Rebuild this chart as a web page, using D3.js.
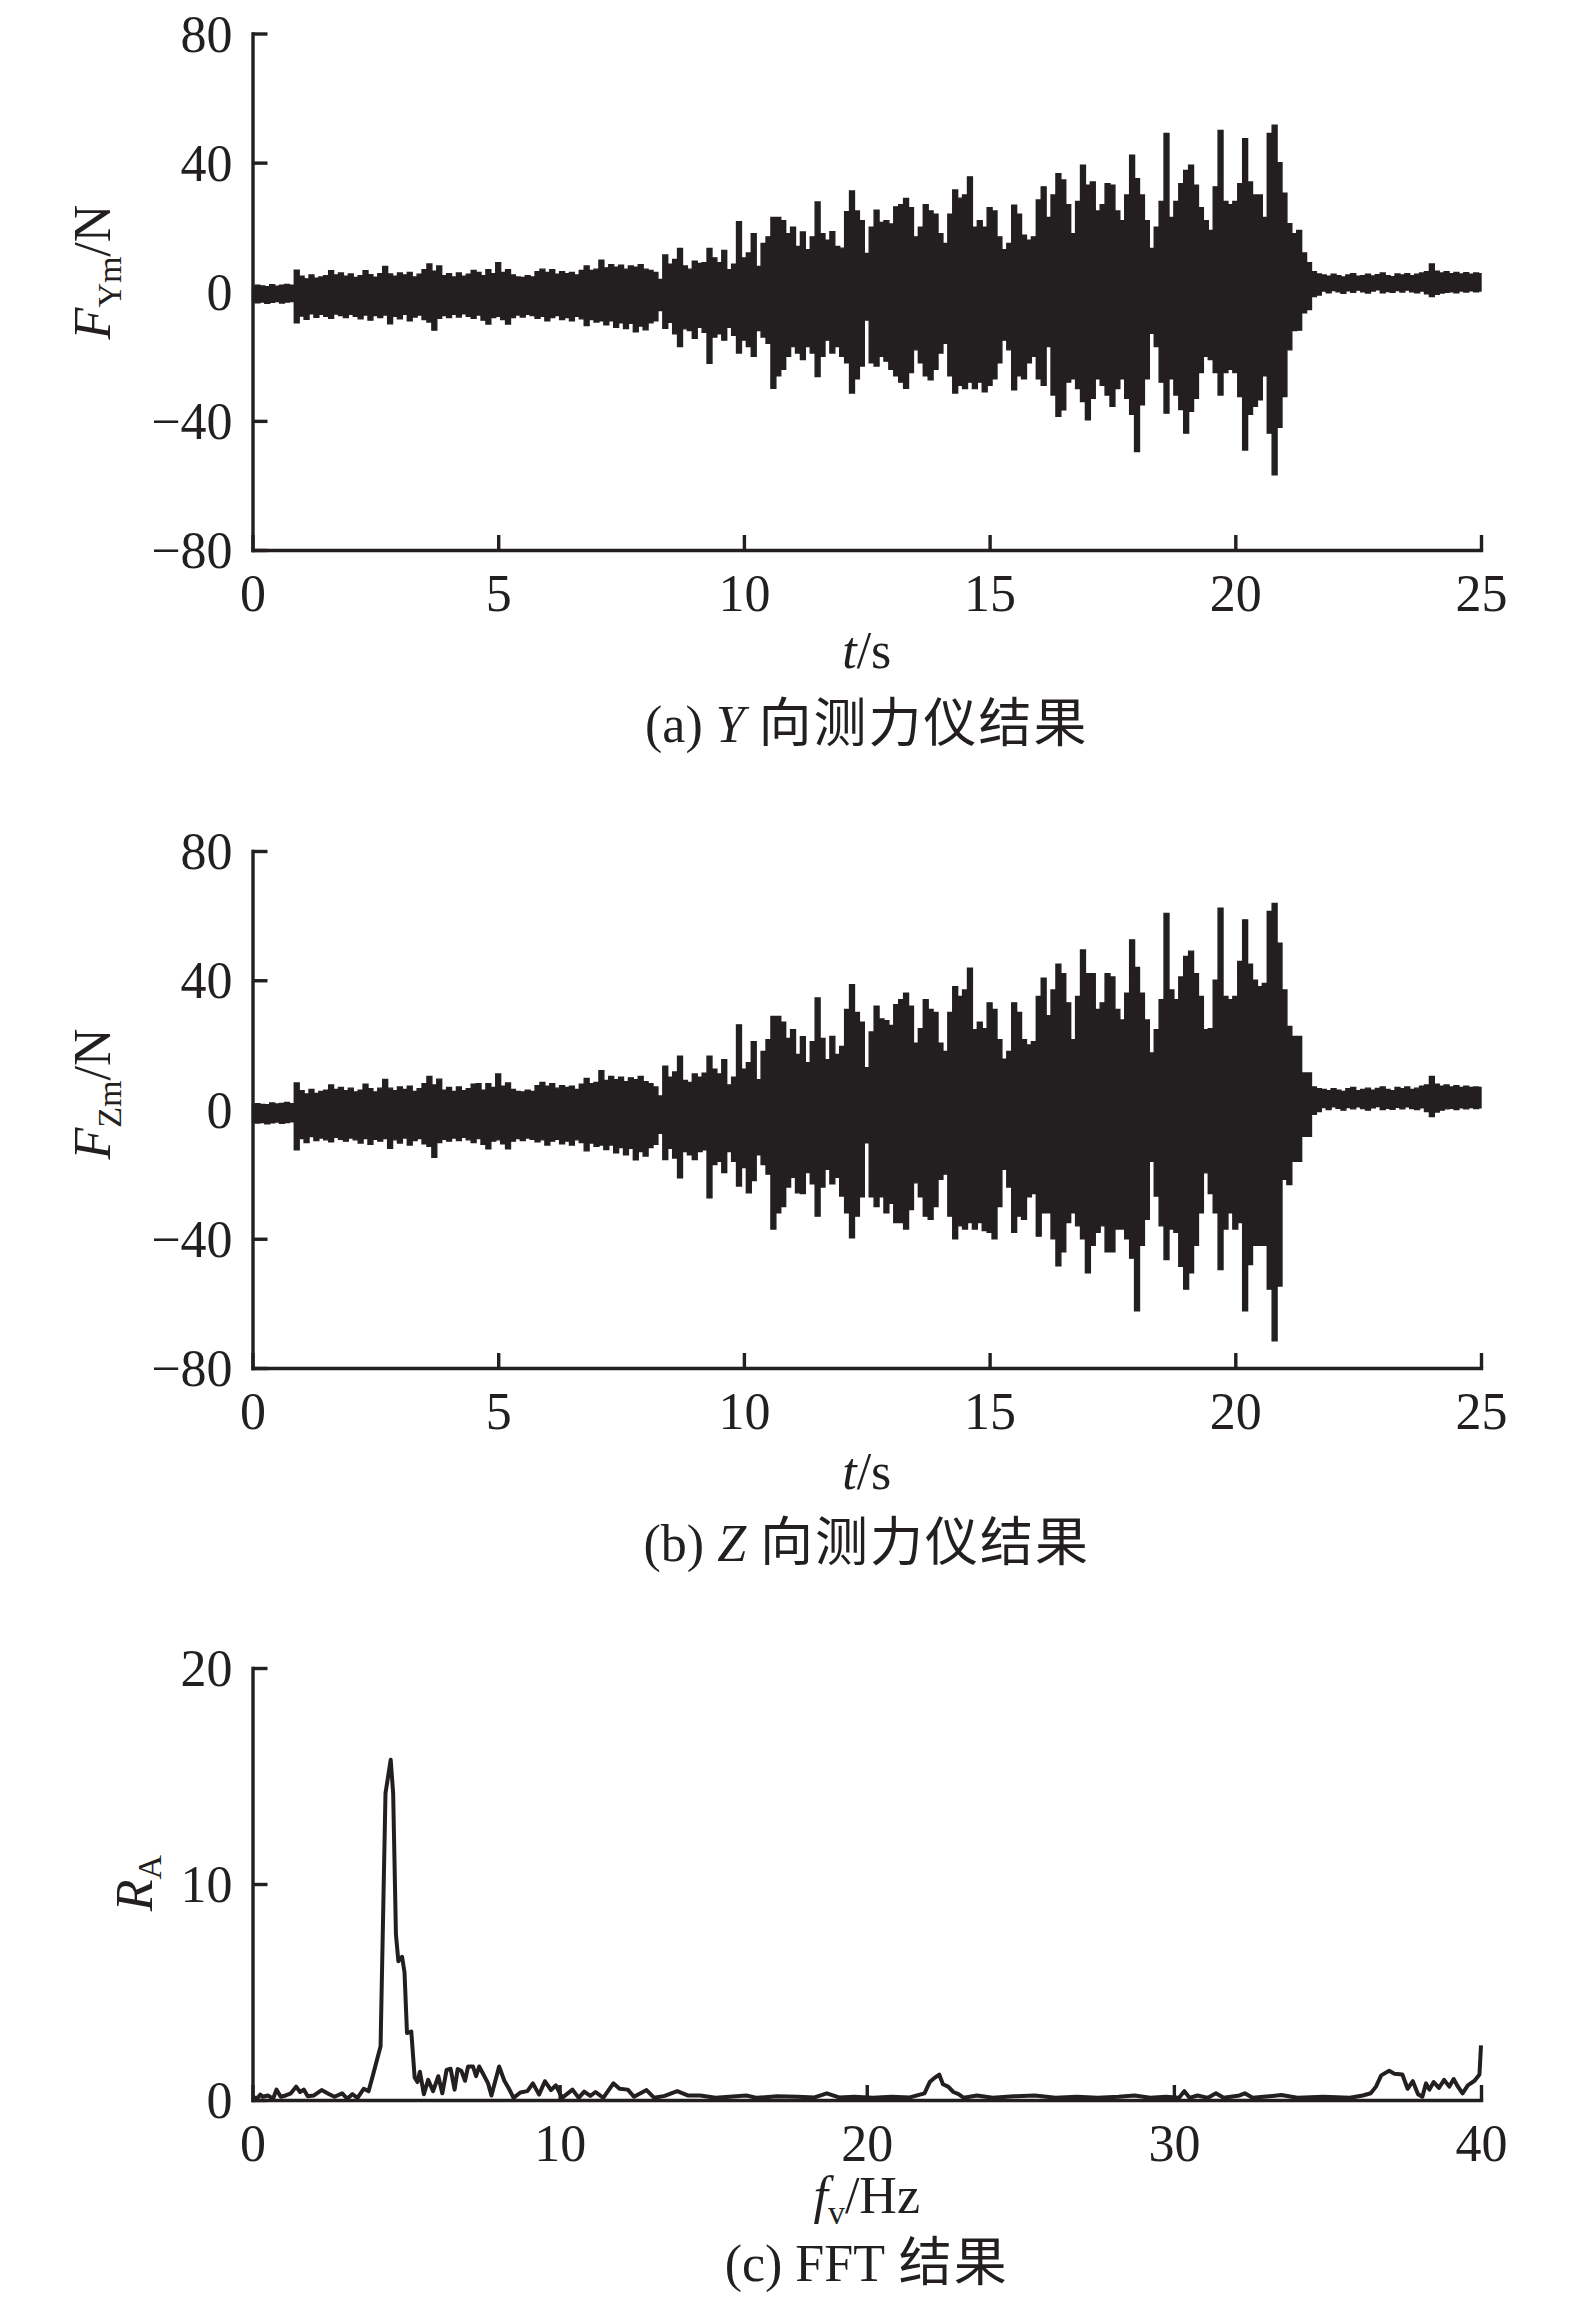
<!DOCTYPE html>
<html><head><meta charset="utf-8">
<script src="https://cdn.jsdelivr.net/npm/d3@7"></script>
<style>
html,body{margin:0;padding:0;background:#fff;}
svg text{font-family:"Liberation Serif","Times New Roman",serif;fill:#231f20;}
</style></head><body>
<svg id="chart" width="1575" height="2301" xmlns="http://www.w3.org/2000/svg"></svg>
<script>
// ---------------- DATA ----------------
const sampleStep = 0.1; // s, envelope sampling step (t = 0 ... 25 s)

// (a) Y-direction dynamometer: upper / lower envelope of F_Ym (N), one row = 1 s
const forceYUpper = [
 1.5,2.0,1.8,1.6,2.2,1.7,2.0,2.3,2.0,6.7,
 4.8,4.0,5.2,4.2,4.6,5.0,6.5,5.2,5.8,4.8,
 5.5,4.4,5.0,6.5,5.3,4.5,5.6,7.8,5.5,4.8,
 5.8,5.2,6.0,4.6,5.4,6.8,8.6,6.4,8.0,5.0,
 5.6,4.6,5.8,4.8,5.4,6.6,6.0,5.0,6.8,5.6,
 9.0,6.0,6.8,5.2,4.6,4.4,5.0,4.6,6.2,7.0,
 6.0,6.8,5.4,6.2,5.6,6.0,5.2,6.6,8.0,6.6,
 7.0,9.8,7.4,8.4,7.6,8.2,7.0,8.0,7.6,8.4,
 7.0,6.6,6.0,3.8,11.4,8.5,10.0,13.4,8.0,7.0,
 9.5,8.8,9.0,13.4,10.5,9.0,12.8,6.8,8.5,21.7,
 10.5,12.0,18.0,7.8,15.0,17.0,23.0,23.0,22.0,18.0,
 20.0,14.0,18.5,13.0,17.0,27.8,18.0,16.0,18.6,14.0,
 13.5,24.8,31.2,25.0,22.0,11.9,20.0,25.3,21.5,22.0,
 21.0,26.3,27.0,28.9,26.0,17.0,20.0,27.0,25.0,24.0,
 18.0,15.0,24.0,31.5,29.0,30.0,35.6,20.0,22.0,20.0,
 26.0,25.0,17.0,13.0,15.0,26.8,24.0,17.5,16.0,17.0,
 28.4,32.5,23.0,30.0,36.6,34.6,27.0,18.0,28.0,39.2,
 33.0,34.0,25.0,27.0,33.5,33.0,25.0,22.0,30.0,42.3,
 35.0,30.0,22.0,13.4,20.0,28.0,49.0,23.0,28.0,33.5,
 37.6,39.2,33.0,26.0,22.0,19.0,32.5,50.0,28.0,27.0,
 28.0,33.5,47.4,34.0,30.0,30.0,23.0,49.0,51.6,40.0,
 30.5,21.1,18.0,19.0,12.0,9.0,6.2,5.5,5.2,4.8,
 5.4,5.0,4.6,5.2,5.6,4.8,5.0,5.4,4.9,5.3,
 5.8,5.0,4.7,5.5,5.2,5.6,5.0,5.4,5.8,6.2,
 8.6,6.4,5.8,6.2,5.6,6.0,5.5,5.9,5.4,5.8,
 5.6];
const forceYLower = [
 -3.0,-3.4,-3.2,-3.6,-3.3,-3.0,-3.5,-3.2,-3.0,-9.6,
 -7.5,-8.5,-6.8,-7.9,-7.0,-7.6,-8.2,-6.9,-7.4,-8.0,
 -7.0,-7.6,-8.4,-7.2,-8.8,-7.4,-8.0,-7.2,-9.9,-7.6,
 -8.4,-7.0,-9.0,-7.8,-7.2,-8.6,-9.4,-11.9,-8.2,-7.4,
 -8.0,-7.0,-7.8,-6.8,-7.6,-8.2,-7.2,-8.8,-10.0,-8.0,
 -7.6,-8.6,-10.0,-8.0,-7.2,-7.8,-7.0,-7.4,-8.2,-7.6,
 -9.0,-8.0,-7.4,-8.6,-8.0,-9.0,-7.6,-8.4,-10.5,-8.6,
 -9.4,-9.0,-10.2,-9.0,-11.0,-9.6,-11.4,-9.8,-12.4,-10.6,
 -11.8,-9.6,-9.0,-5.8,-11.3,-9.5,-13.0,-17.0,-11.5,-12.0,
 -14.4,-11.0,-12.6,-22.2,-14.0,-13.0,-15.0,-11.0,-13.5,-19.0,
 -15.0,-17.0,-20.0,-12.0,-14.0,-16.0,-29.9,-26.0,-24.0,-20.0,
 -17.0,-19.0,-21.0,-17.0,-19.0,-26.3,-20.0,-15.0,-19.0,-17.0,
 -20.0,-22.0,-31.4,-27.0,-23.0,-8.8,-22.0,-23.0,-20.0,-21.5,
 -24.0,-26.0,-28.0,-29.9,-25.0,-18.0,-22.0,-26.0,-27.3,-24.0,
 -19.0,-16.0,-26.0,-31.4,-29.0,-30.0,-28.0,-30.0,-28.0,-31.0,
 -29.0,-27.0,-22.0,-15.0,-18.0,-30.4,-26.0,-27.0,-22.0,-20.0,
 -27.0,-29.0,-17.0,-32.0,-38.6,-36.6,-28.0,-27.0,-30.0,-34.0,
 -39.7,-33.0,-27.0,-29.0,-32.0,-35.5,-30.0,-27.0,-33.0,-38.0,
 -49.5,-35.0,-27.0,-12.9,-17.0,-28.0,-37.6,-27.0,-32.0,-36.5,
 -43.8,-37.0,-33.0,-25.0,-20.0,-21.0,-25.0,-32.0,-25.0,-24.0,
 -25.0,-32.5,-49.0,-38.0,-35.5,-33.5,-26.0,-43.8,-56.7,-42.0,
 -32.5,-18.0,-12.0,-11.9,-6.5,-5.5,-1.5,-1.0,0.2,-0.3,
 0.4,0.0,-0.5,0.3,-0.2,0.5,0.0,-0.4,0.2,0.6,
 -0.3,0.1,-0.2,0.4,-0.1,0.5,0.0,-0.3,0.2,-0.6,
 -1.5,-0.8,-0.4,-0.2,0.0,-0.3,0.2,-0.1,0.3,0.0,
 0.2];

// (b) Z-direction dynamometer: upper / lower envelope of F_Zm (N)
const forceZUpper = [
 1.4,1.8,1.6,1.5,2.0,1.7,1.9,2.2,1.8,8.2,
 5.8,4.8,6.2,5.0,5.6,6.0,7.6,6.2,6.8,5.8,
 6.6,5.4,6.0,7.8,6.4,5.4,6.6,9.3,6.6,5.8,
 7.0,6.2,7.2,5.6,6.4,8.0,10.2,7.6,9.4,6.0,
 6.8,5.6,7.0,5.8,6.4,7.8,8.0,6.0,8.0,6.8,
 11.0,7.2,8.2,6.2,5.6,5.4,6.0,5.6,7.4,8.4,
 7.2,8.0,6.6,7.4,6.8,7.2,6.2,7.8,9.6,8.0,
 8.4,12.0,9.0,10.2,9.2,10.0,8.6,9.8,9.2,10.2,
 8.6,8.0,7.0,4.2,13.4,10.0,11.6,16.5,9.0,8.4,
 11.0,10.0,11.2,16.5,12.5,11.0,15.4,7.6,10.0,26.2,
 12.5,14.5,21.0,9.2,18.0,21.6,28.8,28.8,27.0,22.0,
 24.7,17.0,22.5,14.5,21.0,34.5,22.0,15.4,22.6,17.0,
 19.5,31.0,38.6,30.0,27.0,12.9,24.0,32.0,28.0,27.5,
 26.0,32.4,34.0,36.0,32.0,20.5,25.0,34.0,31.0,30.0,
 20.5,18.0,30.0,38.0,35.0,37.0,43.7,24.7,27.0,25.0,
 33.0,31.0,21.6,15.6,18.0,33.0,30.0,21.6,20.0,21.0,
 35.0,40.6,29.0,37.0,45.0,42.0,33.0,21.6,35.0,49.4,
 42.0,42.0,31.0,33.0,42.0,41.0,31.0,27.7,36.0,52.5,
 44.0,36.0,27.7,17.5,24.7,34.0,60.7,37.0,34.0,41.0,
 47.4,49.0,42.0,35.0,24.7,25.0,40.0,62.3,35.0,34.0,
 35.0,45.8,58.7,45.0,40.0,38.0,39.0,61.3,63.8,51.5,
 37.0,25.7,22.6,22.6,11.3,11.3,7.0,6.4,6.2,5.8,
 6.4,6.0,5.6,6.4,6.8,5.8,6.2,6.6,6.0,6.5,
 7.0,6.2,5.8,6.8,6.4,7.0,6.2,6.6,7.2,7.6,
 10.2,7.8,7.2,7.6,7.0,7.4,6.8,7.2,6.8,7.0,
 6.8];
const forceZLower = [
 -3.8,-4.2,-4.0,-4.4,-4.1,-3.9,-4.3,-4.0,-3.8,-12.5,
 -9.0,-10.2,-8.4,-9.6,-8.8,-9.4,-10.0,-8.6,-9.2,-9.8,
 -8.8,-9.4,-10.4,-9.0,-10.8,-9.2,-9.8,-9.0,-12.0,-9.4,
 -10.4,-8.8,-11.0,-9.6,-9.0,-10.6,-11.4,-14.8,-10.2,-9.2,
 -9.8,-8.8,-9.6,-8.6,-9.4,-10.2,-9.0,-10.8,-12.2,-9.8,
 -9.4,-10.6,-12.2,-9.8,-9.0,-9.6,-8.8,-9.2,-10.0,-9.4,
 -11.0,-9.8,-9.2,-10.6,-9.8,-11.0,-9.4,-10.2,-12.8,-10.4,
 -11.4,-11.0,-12.4,-11.0,-13.4,-11.8,-14.0,-12.0,-15.6,-13.0,
 -14.4,-11.8,-10.8,-7.4,-15.5,-12.0,-15.0,-21.1,-13.0,-14.0,
 -15.5,-13.0,-12.5,-27.3,-17.0,-16.0,-19.5,-13.0,-16.0,-23.7,
 -18.0,-25.8,-22.0,-14.0,-17.0,-20.0,-37.0,-32.0,-30.0,-24.0,
 -21.0,-25.8,-26.0,-19.5,-23.0,-33.0,-24.0,-18.5,-23.0,-21.0,
 -26.8,-32.0,-39.7,-33.0,-27.0,-10.3,-27.0,-30.0,-27.0,-32.0,
 -29.0,-35.0,-35.0,-37.0,-31.0,-22.7,-27.0,-33.0,-34.0,-30.0,
 -21.6,-20.0,-33.0,-40.0,-36.0,-37.0,-35.0,-37.0,-35.0,-37.5,
 -38.0,-40.0,-30.0,-18.5,-24.0,-38.0,-33.0,-34.0,-27.0,-26.0,
 -39.2,-32.0,-32.0,-40.0,-48.4,-44.0,-35.0,-32.0,-36.0,-40.0,
 -50.5,-42.0,-38.0,-36.0,-44.0,-44.0,-37.0,-37.0,-40.0,-46.0,
 -62.3,-42.0,-34.0,-16.0,-26.8,-36.0,-46.4,-37.0,-38.0,-48.5,
 -55.6,-50.5,-42.0,-32.0,-19.6,-26.0,-32.0,-49.5,-37.0,-32.0,
 -37.0,-35.0,-62.3,-48.0,-42.0,-42.0,-42.0,-55.6,-71.6,-54.6,
 -21.6,-23.2,-16.0,-16.0,-8.3,-8.3,-1.5,-0.6,0.6,0.0,
 0.8,0.4,-0.2,0.6,0.2,0.8,0.3,-0.2,0.5,0.9,
 0.0,0.4,0.1,0.7,0.2,0.8,0.3,0.0,0.5,-0.6,
 -2.2,-0.8,-0.2,0.2,0.4,0.0,0.5,0.2,0.6,0.3,
 0.5];

// (c) FFT result
const fftFreq = [0,0.17,0.25,0.33,0.5,0.67,0.78,0.92,1.08,1.25,1.42,1.55,1.67,1.8,2.0,2.25,2.5,2.67,2.92,3.08,3.25,3.42,3.62,3.78,3.92,4.17,4.33,4.5,4.58,4.67,4.75,4.87,4.95,5.03,5.17,5.28,5.37,5.45,5.58,5.72,5.88,6.05,6.18,6.32,6.45,6.58,6.68,6.8,6.92,7.02,7.18,7.28,7.38,7.52,7.67,7.78,8.03,8.2,8.35,8.5,8.72,8.95,9.13,9.33,9.52,9.72,9.88,10.08,10.42,10.62,10.8,11.0,11.17,11.42,11.75,11.95,12.22,12.42,12.83,13.08,13.42,13.83,14.17,14.58,15.08,15.75,16.08,16.42,17.08,17.75,18.3,18.7,19.1,19.6,20.2,20.8,21.4,21.88,22.05,22.22,22.36,22.48,22.65,22.82,22.99,23.16,23.59,24.1,24.79,25.47,26.15,26.84,27.52,28.2,28.72,29.23,29.74,30.17,30.34,30.51,30.77,31.11,31.37,31.62,32.14,32.31,32.56,33.5,34.02,34.87,35.73,36.15,36.41,36.58,36.75,37.01,37.18,37.44,37.61,37.78,37.95,38.09,38.21,38.32,38.46,38.63,38.8,38.97,39.11,39.23,39.4,39.57,39.79,39.95,40.0];
const fftAmp = [0.1,0.1,0.25,0.15,0.21,0.06,0.48,0.15,0.21,0.31,0.62,0.37,0.48,0.17,0.21,0.46,0.27,0.15,0.31,0.06,0.27,0.1,0.52,0.41,1.14,2.49,14.2,15.75,14.2,7.67,6.42,6.63,5.9,3.1,3.17,1.04,0.83,1.31,0.27,0.93,0.41,1.1,0.31,1.39,1.45,0.48,1.43,1.35,0.89,1.55,1.55,1.1,1.55,1.18,0.77,0.21,1.55,0.89,0.52,0.1,0.35,0.41,0.77,0.25,0.87,0.46,0.68,0.1,0.48,0.1,0.39,0.19,0.37,0.1,0.77,0.52,0.48,0.15,0.46,0.1,0.19,0.41,0.21,0.21,0.1,0.17,0.21,0.1,0.17,0.15,0.12,0.31,0.12,0.15,0.1,0.15,0.12,0.31,0.83,1.04,1.18,0.73,0.62,0.37,0.27,0.1,0.21,0.1,0.17,0.21,0.1,0.15,0.1,0.15,0.21,0.1,0.15,0.1,0.41,0.1,0.21,0.1,0.31,0.1,0.21,0.31,0.1,0.23,0.1,0.15,0.1,0.21,0.31,0.62,1.14,1.35,1.22,1.18,0.52,0.87,0.27,0.15,0.77,0.48,0.83,0.56,0.93,0.62,0.97,0.66,0.31,0.68,0.89,1.18,2.53];

const timeTicks = [0,5,10,15,20,25];
const forceTicks = [-80,-40,0,40,80];
const freqTicks = [0,10,20,30,40];
const ampTicks = [0,10,20];

// ---------------- DRAWING ----------------
const svg = d3.select('#chart');
const INK = '#231f20';
const X0 = 252.5, X1 = 1481;
const FS = 52;
const SERIF = '"Liberation Serif","Times New Roman",serif';
const CJK = '"Noto Sans CJK SC","Noto Sans CJK JP",sans-serif';

function styleAxis(g){
  g.selectAll('path.domain').attr('stroke', INK).attr('stroke-width', 3.4).attr('stroke-linecap','square');
  g.selectAll('.tick line').attr('stroke', INK).attr('stroke-width', 3.4);
  g.selectAll('.tick text').attr('fill', INK)
    .style('font-family', SERIF).style('font-size', FS + 'px');
}

function drawAxes(x, y, xTicks, yTicks, yBot){
  const gx = svg.append('g').attr('transform', `translate(0,${yBot})`)
    .call(d3.axisBottom(x).tickValues(xTicks).tickSizeInner(-15).tickSizeOuter(0).tickPadding(24));
  styleAxis(gx);
  gx.selectAll('.tick text').attr('dy', null).attr('y', 61);
  const gy = svg.append('g').attr('transform', `translate(${X0},0)`)
    .call(d3.axisLeft(y).tickValues(yTicks).tickSizeInner(-15).tickSizeOuter(0).tickPadding(20));
  styleAxis(gy);
  gy.selectAll('.tick text').attr('dy', '0.34em');
}

function rotLabel(x, yc, main, sub, rest, subDy){
  const t = svg.append('text')
    .attr('transform', `translate(${x},${yc}) rotate(-90)`)
    .attr('text-anchor', 'middle').style('font-size', FS + 'px').style('font-family', SERIF);
  t.append('tspan').style('font-style', 'italic').text(main);
  t.append('tspan').attr('dy', subDy).style('font-size', '34px').text(sub);
  if (rest) t.append('tspan').attr('dy', -subDy).text(rest);
}

function xLabel(yb, main, sub, rest){
  const t = svg.append('text').attr('x', (X0 + X1) / 2).attr('y', yb)
    .attr('text-anchor', 'middle').style('font-size', FS + 'px').style('font-family', SERIF);
  t.append('tspan').style('font-style', 'italic').text(main);
  if (sub) {
    t.append('tspan').attr('dy', 11).style('font-size', '34px').text(sub);
    t.append('tspan').attr('dy', -11).text(rest);
  } else {
    t.append('tspan').text(rest);
  }
}

function caption(yb, pre, ital, cjk){
  const t = svg.append('text').attr('x', (X0 + X1) / 2).attr('y', yb)
    .attr('text-anchor', 'middle').style('font-size', FS + 'px').style('font-family', SERIF);
  t.append('tspan').text(pre);
  if (ital) t.append('tspan').style('font-style', 'italic').text(ital);
  t.append('tspan').style('font-family', CJK).style('font-size', '53px')
    .style('letter-spacing', '2px').text(cjk);
}

function signalPanel(upper, lower, yTop, yBot){
  const x = d3.scaleLinear().domain([0, 25]).range([X0, X1]);
  const y = d3.scaleLinear().domain([-80, 80]).range([yBot, yTop]);
  const pts = upper.map((u, i) => ({ t: i * sampleStep, u: u, l: lower[i] }));
  const area = d3.area().x(d => x(d.t)).y0(d => y(d.l)).y1(d => y(d.u)).curve(d3.curveStep);
  svg.append('path').datum(pts).attr('d', area)
    .attr('fill', INK).attr('stroke', INK).attr('stroke-width', 1.4);
  drawAxes(x, y, timeTicks, forceTicks, yBot);
}

// panel (a)
signalPanel(forceYUpper, forceYLower, 33.5, 550);
rotLabel(110, 272, 'F', 'Ym', '/N', 11);
xLabel(668, 't', null, '/s');
caption(742, '(a) ', 'Y', ' 向测力仪结果');

// panel (b)
signalPanel(forceZUpper, forceZLower, 851, 1368);
rotLabel(110, 1094, 'F', 'Zm', '/N', 11);
xLabel(1489, 't', null, '/s');
caption(1561, '(b) ', 'Z', ' 向测力仪结果');

// panel (c)
(function(){
  const x = d3.scaleLinear().domain([0, 40]).range([X0, X1]);
  const y = d3.scaleLinear().domain([0, 20]).range([2100, 1668]);
  const pts = fftFreq.map((f, i) => ({ f: f, a: fftAmp[i] }));
  svg.append('path').datum(pts)
    .attr('d', d3.line().x(d => x(d.f)).y(d => y(d.a)))
    .attr('fill', 'none').attr('stroke', INK).attr('stroke-width', 4).attr('stroke-linejoin', 'round');
  drawAxes(x, y, freqTicks, ampTicks, 2100);
  rotLabel(152, 1883, 'R', 'A', null, 9);
  xLabel(2213, 'f', 'v', '/Hz');
  caption(2281, '(c) FFT', null, ' 结果');
})();
</script>
</body></html>
